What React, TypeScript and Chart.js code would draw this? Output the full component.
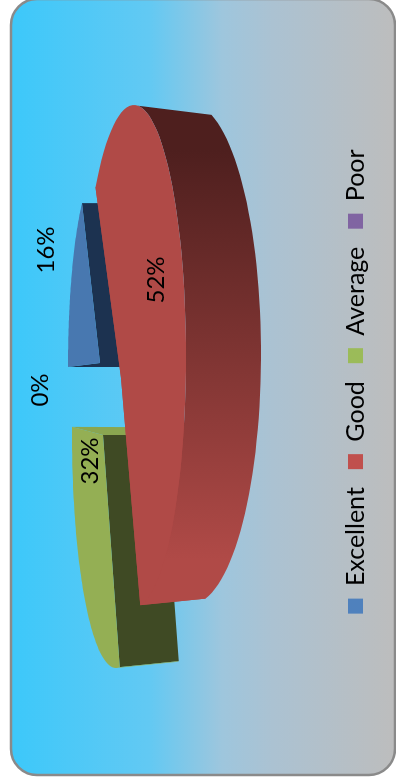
import React, { useEffect, useRef } from "react";
import { Chart, registerables } from "chart.js";

Chart.register(...registerables);

const categories = ["Excellent", "Good", "Average", "Poor"];
const shares = [16, 52, 32, 0];
const legendColors = ["#4F81BD", "#C0504D", "#9BBB59", "#8064A2"];

const DEG = Math.PI / 180;
const FONT = "Lato, sans-serif";

type Pt = [number, number];

type View = {
  cx: number; cy: number; w: number; h: number;
  apexX: number; apexY: number;
  startDeg: number; stretch: number;
  backDx: number; backDy: number; backDw: number; backDh: number;
  twistFromDeg: number; twistToDeg: number;
  face: string; wall: string | [string, string]; cutStart: string; cutEnd: string;
};

// Perspective of the tilted pie: every exploded slice has its own rim ellipse and apex.
const views: Record<string, View> = {
  Excellent: {
    cx: 415, cy: 100, w: 198, h: 32, apexX: 419, apexY: 100, startDeg: 0, stretch: 0.97,
    backDx: 0, backDy: 70, backDw: 0, backDh: 0, twistFromDeg: 0, twistToDeg: 0,
    face: "#4878B0", wall: "#1C3250", cutStart: "#1C3250", cutEnd: "#1C3250",
  },
  Good: {
    cx: 426, cy: 134, w: 251, h: 52, apexX: 404, apexY: 121, startDeg: 42.2, stretch: 1.18,
    backDx: 2, backDy: 57, backDw: -1, backDh: 18, twistFromDeg: 18, twistToDeg: -5,
    face: "#B04A47", wall: ["#4E1F1E", "#B04A47"], cutStart: "#B04A47", cutEnd: "#B04A47",
  },
  Average: {
    cx: 347, cy: 116, w: 233, h: 44, apexX: 347, apexY: 103, startDeg: 265, stretch: 0.842,
    backDx: 0, backDy: 59, backDw: -6, backDh: 0, twistFromDeg: 0, twistToDeg: 0,
    face: "#94AF54", wall: "#94AF54", cutStart: "#3F4A24", cutEnd: "#8AA650",
  },
};

const paintOrder = ["Excellent", "Average", "Good"];

// Where each percentage sits on the landscape canvas.
const labelSpots: Record<string, Pt> = {
  Excellent: [532, 46],
  Good: [502, 156],
  Average: [321, 90],
  Poor: [392, 40],
};

const gradientStops: [number, string][] = [
  [0, "#3CC8FA"],
  [0.36, "#62C9F3"],
  [0.55, "#9EC6DD"],
  [0.68, "#ABC2D2"],
  [1, "#BDBDBD"],
];

function rimPoint(v: View, psi: number, back: boolean, u: number): Pt {
  const cx = v.cx + (back ? v.backDx : 0);
  const cy = v.cy + (back ? v.backDy : 0);
  const w = v.w + (back ? v.backDw : 0);
  const h = v.h + (back ? v.backDh : 0);
  const twist = v.twistFromDeg + (v.twistToDeg - v.twistFromDeg) * u;
  const t = back ? psi + twist * DEG : psi;
  return [cx + w * Math.sin(t), cy - h * Math.cos(t)];
}

function tracePath(ctx: CanvasRenderingContext2D, pts: Pt[]) {
  pts.forEach(([x, y], i) => (i ? ctx.lineTo(x, y) : ctx.moveTo(x, y)));
  ctx.closePath();
}

function fillPath(ctx: CanvasRenderingContext2D, pts: Pt[], fill: string) {
  ctx.beginPath();
  tracePath(ctx, pts);
  ctx.fillStyle = fill;
  ctx.fill();
}

function paintSlice(ctx: CanvasRenderingContext2D, v: View, arc: any) {
  const sweep = arc.endAngle - arc.startAngle;
  const from = v.startDeg * DEG;
  const to = from + sweep * v.stretch;
  const steps = 72;
  const angles: number[] = [];
  const front: Pt[] = [];
  const rear: Pt[] = [];
  for (let i = 0; i <= steps; i++) {
    const u = i / steps;
    const psi = from + (to - from) * u;
    angles.push(psi);
    front.push(rimPoint(v, psi, false, u));
    rear.push(rimPoint(v, psi, true, u));
  }
  const apex: Pt = [v.apexX, v.apexY];
  const apexBack: Pt = [v.apexX + v.backDx, v.apexY + v.backDy];

  // the two cut faces
  fillPath(ctx, [front[0], apex, apexBack, rear[0]], v.cutStart);
  fillPath(ctx, [front[steps], apex, apexBack, rear[steps]], v.cutEnd);

  // outer wall: the strips turned toward the viewer, filled as one path so no seams appear
  ctx.beginPath();
  for (let i = 0; i < steps; i++) {
    if (Math.cos(angles[i]) < -0.03) {
      tracePath(ctx, [front[i], front[i + 1], rear[i + 1], rear[i]]);
    }
  }
  if (Array.isArray(v.wall)) {
    const g = ctx.createLinearGradient(632, 0, 222, 0);
    g.addColorStop(0, v.wall[0]);
    g.addColorStop(1, v.wall[1]);
    ctx.fillStyle = g;
  } else {
    ctx.fillStyle = v.wall;
  }
  ctx.fill();

  // top face
  fillPath(ctx, [apex, ...front], v.face);
}

const piePlugin = {
  id: "tiltedPie",
  beforeDraw(chart: any) {
    const { ctx } = chart;
    const x = 7, y = 11, w = 776, h = 384;
    const g = ctx.createLinearGradient(0, 10, 0, 396);
    gradientStops.forEach(([o, c]) => g.addColorStop(o, c));
    ctx.save();
    ctx.beginPath();
    ctx.roundRect(x, y, w, h, 26);
    ctx.fillStyle = g;
    ctx.fill();
    ctx.lineWidth = 2.5;
    ctx.strokeStyle = "#8A8A8A";
    ctx.stroke();
    ctx.restore();
  },
  beforeDatasetsDraw(chart: any) {
    const { ctx } = chart;
    const arcs = chart.getDatasetMeta(0).data;
    ctx.save();
    paintOrder.forEach((name) => {
      const i = categories.indexOf(name);
      if (shares[i] > 0) paintSlice(ctx, views[name], arcs[i]);
    });
    ctx.restore();
    return false;
  },
  afterDraw(chart: any) {
    const { ctx } = chart;
    const total = shares.reduce((a, b) => a + b, 0);
    ctx.save();
    ctx.fillStyle = "#000";
    ctx.font = `24px ${FONT}`;
    ctx.textAlign = "center";
    ctx.textBaseline = "middle";
    categories.forEach((name, i) => {
      const [x, y] = labelSpots[name];
      ctx.fillText(`${Math.round((shares[i] / total) * 100)}%`, x, y);
    });
    ctx.restore();
  },
};

export default function App() {
  const canvasRef = useRef<HTMLCanvasElement>(null);

  useEffect(() => {
    const chart = new Chart(canvasRef.current!, {
      type: "pie",
      data: {
        labels: categories,
        datasets: [{ data: shares, backgroundColor: legendColors, borderWidth: 0 }],
      },
      options: {
        animation: false,
        responsive: false,
        devicePixelRatio: 1,
        events: [],
        layout: { padding: { left: 19, bottom: 18 } },
        plugins: {
          tooltip: { enabled: false },
          legend: {
            position: "bottom",
            labels: {
              boxWidth: 15,
              boxHeight: 15,
              padding: 18,
              color: "#000",
              font: { family: FONT, size: 25 },
            },
          },
        },
      },
      plugins: [piePlugin],
    } as any);
    return () => chart.destroy();
  }, []);

  return (
    <div style={{ position: "fixed", left: 0, top: 0, width: 396, height: 782, overflow: "hidden", background: "#fff" }}>
      <canvas
        ref={canvasRef}
        width={782}
        height={396}
        style={{ position: "absolute", left: 0, top: 0, transformOrigin: "0 0", transform: "translate(0px, 782px) rotate(-90deg)" }}
      />
    </div>
  );
}
